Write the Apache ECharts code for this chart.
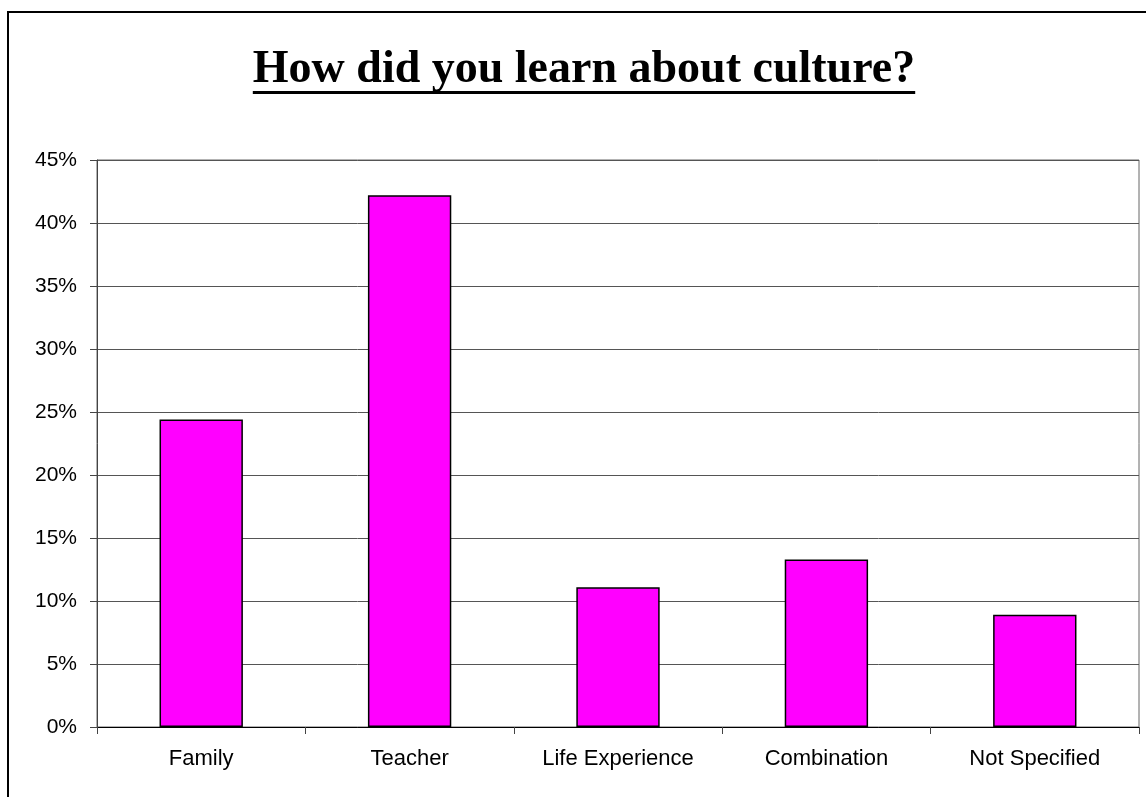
<!DOCTYPE html>
<html>
<head>
<meta charset="utf-8">
<script src="https://cdn.jsdelivr.net/npm/echarts@6/dist/echarts.min.js"></script>
<style>
html,body{margin:0;padding:0;background:#fff;}
#chart{width:1146px;height:797px;}
</style>
</head>
<body>
<div id="chart"></div>
<script>
var titleText = 'How did you learn about culture?';
var categories = ['Family', 'Teacher', 'Life Experience', 'Combination', 'Not Specified'];
var values = [24.4, 42.2, 11.1, 13.3, 8.9];
var yTicks = [0, 5, 10, 15, 20, 25, 30, 35, 40, 45];

var titleFont = 'bold 46px "Liberation Serif", "Times New Roman", serif';
var cx = 584, bottomY = 93;
var ctx = document.createElement('canvas').getContext('2d');
ctx.font = titleFont;
var tw = ctx.measureText(titleText).width;

var chart = echarts.init(document.getElementById('chart'), null, {renderer: 'canvas'});
chart.setOption({
  animation: false,
  backgroundColor: '#fff',
  graphic: [
    {type: 'rect', shape: {x: 8, y: 12, width: 1300, height: 1000},
     style: {fill: 'none', stroke: '#000', lineWidth: 2}, z: 100},
    {type: 'text', x: cx, y: bottomY,
     style: {text: titleText, font: titleFont, fill: '#000', textAlign: 'center', textVerticalAlign: 'bottom'}, z: 100},
    {type: 'rect', shape: {x: cx - tw / 2, y: 91, width: tw, height: 3},
     style: {fill: '#000'}, z: 100}
  ],
  grid: {left: 97, right: 7, top: 160, bottom: 70, containLabel: false,
         show: true, borderColor: '#666', borderWidth: 1},
  xAxis: {
    type: 'category',
    data: categories,
    axisLine: {lineStyle: {color: '#000', width: 1}},
    axisTick: {show: true, length: 7, lineStyle: {color: '#444'}},
    axisLabel: {color: '#000', fontFamily: 'Liberation Sans, Arial, sans-serif', fontSize: 22, margin: 21}
  },
  yAxis: {
    type: 'value',
    min: 0, max: 45, interval: 5,
    axisLine: {show: true, lineStyle: {color: '#444'}},
    axisTick: {show: true, length: 7, lineStyle: {color: '#444'}},
    axisLabel: {color: '#000', fontFamily: 'Liberation Sans, Arial, sans-serif', fontSize: 21, margin: 20,
                formatter: function (v) { return v + '%'; }},
    splitLine: {show: true, lineStyle: {color: '#555', width: 1}}
  },
  series: [{
    type: 'bar',
    data: values,
    barWidth: '40%',
    itemStyle: {color: '#FF00FF', borderColor: '#000', borderWidth: 1.5}
  }]
});
</script>
</body>
</html>
